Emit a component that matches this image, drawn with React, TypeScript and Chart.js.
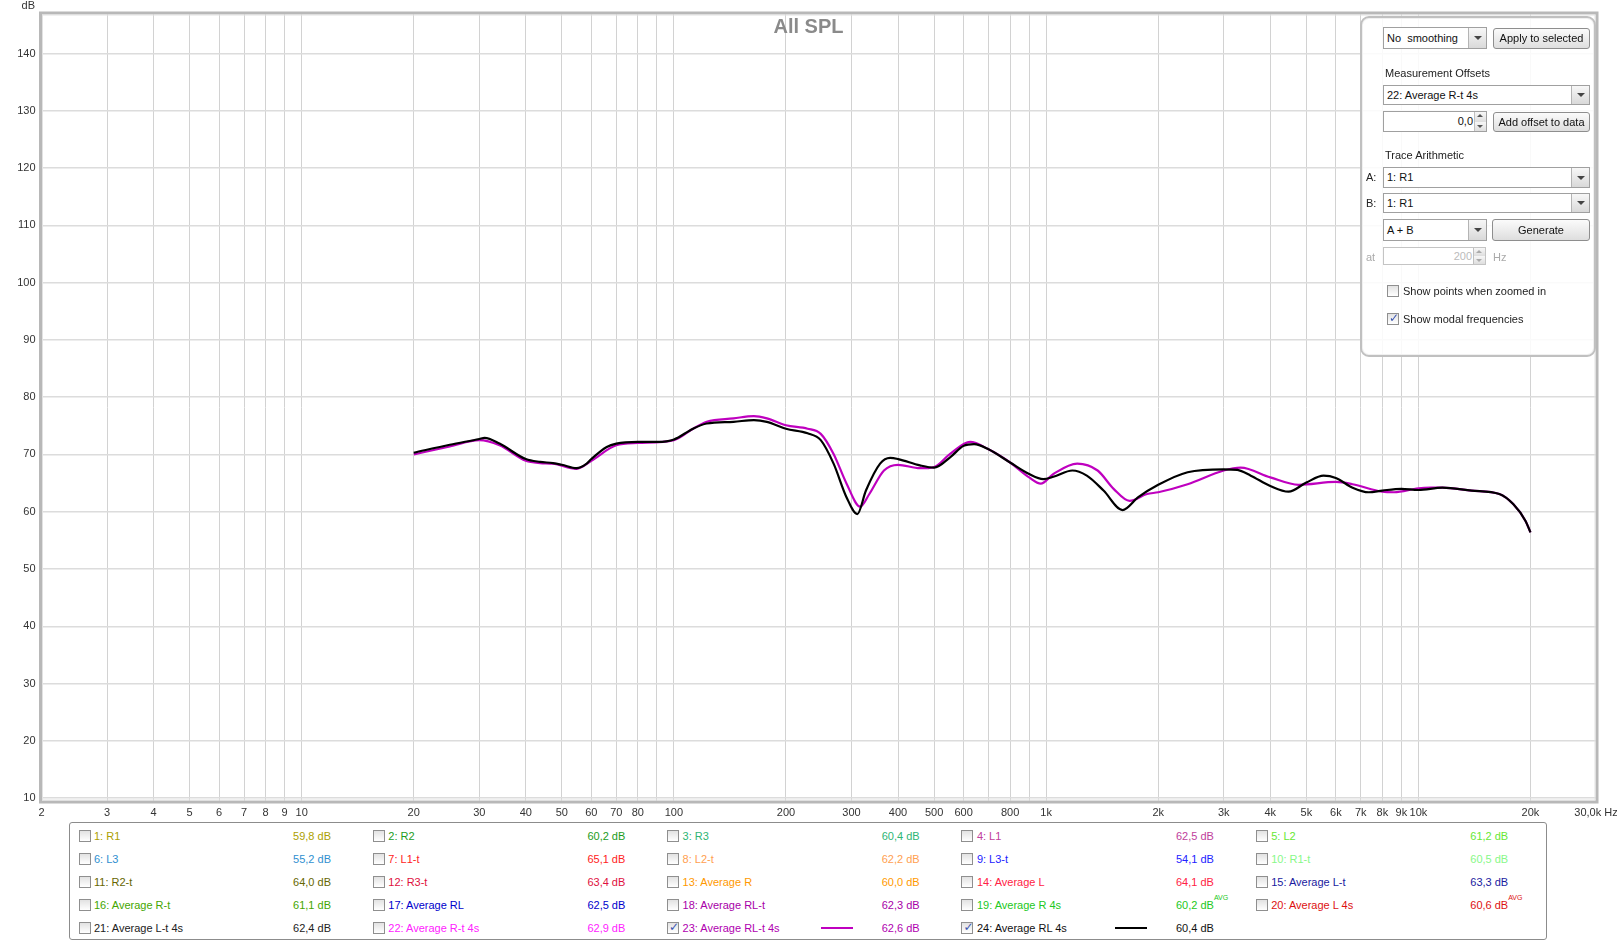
import React, { useEffect, useRef } from 'react';
import { Chart, registerables } from 'chart.js';

Chart.register(...registerables);

// ---------------- DATA ----------------
const freqRL4s = [20, 25, 30, 31, 34, 40, 43.7, 47.3, 50, 54.8, 58.3, 60, 66, 70, 80, 90, 95.5, 100, 112.6, 122.5, 144.6, 164, 177.7, 200, 228.6, 248, 268.5, 291, 311, 328, 358, 381, 400, 458, 500, 552, 600, 640, 700, 800, 900, 982, 1046, 1176, 1286, 1426, 1604, 1764, 2000, 2399, 3000, 3263, 3546, 4000, 4480, 5000, 5562, 6000, 6655, 7352, 8000, 9000, 10000, 11600, 13900, 16500, 18000, 19400, 20000];
const dbRL4s = [70.3, 71.7, 72.7, 72.9, 71.9, 69.2, 68.7, 68.5, 68.2, 67.6, 68.4, 69.2, 71.3, 71.9, 72.2, 72.2, 72.3, 72.6, 74.5, 75.4, 75.7, 76.0, 75.7, 74.5, 73.7, 72.5, 68.4, 62.5, 59.6, 63.7, 68.4, 69.4, 69.2, 68.1, 67.7, 69.5, 71.5, 71.8, 70.9, 68.6, 66.6, 65.7, 66.1, 67.2, 66.3, 63.7, 60.3, 62.5, 64.7, 66.9, 67.4, 67.3, 66.3, 64.5, 63.5, 65.1, 66.3, 65.9, 64.2, 63.4, 63.7, 64.0, 63.8, 64.2, 63.7, 63.1, 61.3, 58.4, 56.4];

const freqRLt4s = [20, 25, 30, 34, 40, 43.7, 47.3, 54.8, 60, 70, 80, 100, 112.6, 122.5, 144.6, 164, 177.7, 200, 228.6, 248, 268.5, 291, 316.5, 335, 366.7, 400, 458, 500, 552, 625, 700, 800, 900, 967, 1046, 1212, 1375, 1518, 1675, 1866, 2000, 2399, 3000, 3330, 4000, 4770, 6000, 6655, 8000, 8600, 10000, 10800, 11600, 13900, 16500, 18000, 19400, 20000];
const dbRLt4s = [70.0, 71.4, 72.5, 71.6, 68.9, 68.5, 68.4, 67.5, 68.9, 71.6, 72.0, 72.5, 74.5, 75.7, 76.3, 76.7, 76.3, 75.1, 74.5, 73.6, 70.1, 64.9, 60.9, 63.1, 67.2, 68.2, 67.6, 67.8, 70.1, 72.2, 70.9, 68.6, 66.0, 64.9, 66.6, 68.4, 67.2, 64.0, 61.9, 63.1, 63.4, 64.8, 67.2, 67.7, 66.0, 64.7, 65.2, 64.8, 63.5, 63.4, 64.1, 64.2, 64.2, 63.7, 63.1, 61.3, 58.4, 56.4];

const yTickValues = [10, 20, 30, 40, 50, 60, 70, 80, 90, 100, 110, 120, 130, 140];
const xTickValues = [2, 3, 4, 5, 6, 7, 8, 9, 10, 20, 30, 40, 50, 60, 70, 80, 90, 100, 200, 300, 400, 500, 600, 700, 800, 900, 1000, 2000, 3000, 4000, 5000, 6000, 7000, 8000, 9000, 10000, 20000, 30000];
const xTickLabels = ['2', '3', '4', '5', '6', '7', '8', '9', '10', '20', '30', '40', '50', '60', '70', '80', '', '100', '200', '300', '400', '500', '600', '', '800', '', '1k', '2k', '3k', '4k', '5k', '6k', '7k', '8k', '9k', '10k', '20k', '30,0k Hz'];

const legendNames = ['1: R1', '2: R2', '3: R3', '4: L1', '5: L2', '6: L3', '7: L1-t', '8: L2-t', '9: L3-t', '10: R1-t', '11: R2-t', '12: R3-t', '13: Average R', '14: Average L', '15: Average L-t', '16: Average R-t', '17: Average RL', '18: Average RL-t', '19: Average R 4s', '20: Average L 4s', '21: Average L-t 4s', '22: Average R-t 4s', '23: Average RL-t 4s', '24: Average RL 4s'];
const legendValues = ['59,8 dB', '60,2 dB', '60,4 dB', '62,5 dB', '61,2 dB', '55,2 dB', '65,1 dB', '62,2 dB', '54,1 dB', '60,5 dB', '64,0 dB', '63,4 dB', '60,0 dB', '64,1 dB', '63,3 dB', '61,1 dB', '62,5 dB', '62,3 dB', '60,2 dB', '60,6 dB', '62,4 dB', '62,9 dB', '62,6 dB', '60,4 dB'];
const legendAvg = [false, false, false, false, false, false, false, false, false, false, false, false, false, false, false, false, false, false, true, true, false, false, false, false];
const legendColors = ['#aca000', '#1c9c1c', '#2eb574', '#c0409c', '#66e833', '#2f8fd0', '#ff2222', '#ffa050', '#2222ff', '#88f888', '#666600', '#e01040', '#ff9900', '#ff2244', '#1a1aa0', '#44a600', '#0000cc', '#a800a8', '#22c822', '#dd1111', '#222222', '#ff22ff', '#b000b0', '#111111'];
const legendChecked = [false, false, false, false, false, false, false, false, false, false, false, false, false, false, false, false, false, false, false, false, false, false, true, true];
const legendLineColors = ['', '', '', '', '', '', '', '', '', '', '', '', '', '', '', '', '', '', '', '', '', '', '#bf00bf', '#000000'];

const FONT = 'Arial, "Liberation Sans", sans-serif';

// ---------------- UI helpers ----------------
const abs = (left: number, top: number, width?: number, height?: number): React.CSSProperties => ({
  position: 'absolute', left, top, width, height, boxSizing: 'border-box',
});

function Arrow({ color = '#444' }: { color?: string }) {
  return (
    <div style={{ position: 'absolute', left: '50%', top: '50%', marginLeft: -4, marginTop: -2, width: 0, height: 0,
      borderLeft: '4px solid transparent', borderRight: '4px solid transparent', borderTop: `4px solid ${color}` }} />
  );
}

function Combo({ left, top, width, height, text }: { left: number; top: number; width: number; height: number; text: string }) {
  return (
    <div style={{ ...abs(left, top, width, height), border: '1px solid #a0a0a0', background: '#fff', font: `11px ${FONT}`,
      lineHeight: `${height - 2}px`, paddingLeft: 3, color: '#111', whiteSpace: 'pre' }}>
      {text}
      <div style={{ position: 'absolute', right: 0, top: 0, width: 17, height: '100%', background: 'linear-gradient(#f7f7f7,#d9d9d9)', borderLeft: '1px solid #b4b4b4' }}>
        <Arrow />
      </div>
    </div>
  );
}

function Button({ left, top, width, height, text }: { left: number; top: number; width: number; height: number; text: string }) {
  return (
    <div style={{ ...abs(left, top, width, height), border: '1px solid #8e8e8e', borderRadius: 3, background: 'linear-gradient(#fbfbfb,#dedede)',
      font: `11px ${FONT}`, lineHeight: `${height - 2}px`, textAlign: 'center', color: '#111' }}>{text}</div>
  );
}

function Spinner({ left, top, width, height, text, disabled }: { left: number; top: number; width: number; height: number; text: string; disabled?: boolean }) {
  const c = disabled ? '#bbb' : '#111';
  return (
    <div style={{ ...abs(left, top, width, height), border: `1px solid ${disabled ? '#c4c4c4' : '#a0a0a0'}`, background: '#fff', font: `11px ${FONT}`,
      lineHeight: `${height - 2}px`, textAlign: 'right', paddingRight: 13, color: c }}>
      {text}
      <div style={{ position: 'absolute', right: 0, top: 0, width: 11, height: '50%', background: 'linear-gradient(#f7f7f7,#dedede)', borderLeft: '1px solid #c0c0c0', borderBottom: '1px solid #c0c0c0' }}>
        <div style={{ position: 'absolute', left: 2, top: 2, width: 0, height: 0, borderLeft: '3px solid transparent', borderRight: '3px solid transparent', borderBottom: `3px solid ${disabled ? '#aaa' : '#555'}` }} />
      </div>
      <div style={{ position: 'absolute', right: 0, bottom: 0, width: 11, height: '50%', background: 'linear-gradient(#f7f7f7,#dedede)', borderLeft: '1px solid #c0c0c0' }}>
        <div style={{ position: 'absolute', left: 2, top: 3, width: 0, height: 0, borderLeft: '3px solid transparent', borderRight: '3px solid transparent', borderTop: `3px solid ${disabled ? '#aaa' : '#555'}` }} />
      </div>
    </div>
  );
}

function CheckBox({ left, top, checked }: { left: number; top: number; checked: boolean }) {
  return (
    <div style={{ ...abs(left, top, 12, 12), border: '1px solid #8f8f8f', background: 'linear-gradient(#e2e2e2,#ffffff)' }}>
      {checked ? (
        <div style={{ position: 'absolute', left: 1, top: -3, font: `bold 12px "DejaVu Sans", ${FONT}`, color: '#3b55b0' }}>✓</div>
      ) : null}
    </div>
  );
}

function Label({ left, cy, text, color = '#222' }: { left: number; cy: number; text: string; color?: string }) {
  return <div style={{ ...abs(left, cy - 7), height: 14, font: `11px ${FONT}`, lineHeight: '14px', color, whiteSpace: 'nowrap' }}>{text}</div>;
}

// ---------------- Chart ----------------
const framePlugin = {
  id: 'framePlugin',
  afterDatasetsDraw(chart: any) {
    const { ctx, chartArea } = chart;
    const { left, top, right, bottom } = chartArea;
    ctx.save();
    ctx.strokeStyle = '#b8b8b8';
    ctx.lineWidth = 3;
    ctx.strokeRect(left - 1, top - 1, right - left + 2, bottom - top + 2);
    ctx.strokeStyle = '#e2e2e2';
    ctx.lineWidth = 1;
    ctx.strokeRect(left + 1, top + 1, right - left - 2, bottom - top - 2);
    ctx.restore();
  },
  afterDraw(chart: any) {
    const { ctx } = chart;
    ctx.save();
    ctx.fillStyle = '#8a8a8a';
    ctx.font = `bold 20px ${FONT}`;
    ctx.textAlign = 'center';
    ctx.textBaseline = 'middle';
    ctx.fillText('All SPL', chart.width / 2, 27);
    ctx.fillStyle = '#333';
    ctx.font = `11px ${FONT}`;
    ctx.textAlign = 'right';
    ctx.fillText('dB', 35, 6);
    ctx.restore();
  },
};

function SplChart() {
  const ref = useRef<HTMLCanvasElement | null>(null);
  useEffect(() => {
    if (!ref.current) return;
    const chart = new Chart(ref.current, {
      type: 'line',
      data: {
        datasets: [
          {
            label: '24: Average RL 4s',
            data: freqRL4s.map((f, i) => ({ x: f, y: dbRL4s[i] })),
            borderColor: '#000000',
            borderWidth: 2.2,
            pointRadius: 0,
            cubicInterpolationMode: 'monotone',
            fill: false,
          },
          {
            label: '23: Average RL-t 4s',
            data: freqRLt4s.map((f, i) => ({ x: f, y: dbRLt4s[i] })),
            borderColor: '#bf00bf',
            borderWidth: 2.2,
            pointRadius: 0,
            cubicInterpolationMode: 'monotone',
            fill: false,
          },
        ],
      },
      options: {
        responsive: false,
        animation: false,
        layout: { padding: { left: 0, top: 14, right: 21, bottom: 121 } },
        plugins: { legend: { display: false }, tooltip: { enabled: false }, title: { display: false } },
        scales: {
          x: {
            type: 'logarithmic',
            min: 2,
            max: 30000,
            afterBuildTicks: (s: any) => { s.ticks = xTickValues.map((v) => ({ value: v })); },
            afterFit: (s: any) => { s.height = 20; s.paddingLeft = 0; s.paddingRight = 0; },
            ticks: {
              autoSkip: false, maxRotation: 0, minRotation: 0, padding: 5, color: '#333',
              font: { family: FONT, size: 11 },
              callback: (_v: any, i: number) => xTickLabels[i],
            },
            grid: { color: '#d2d2d2', lineWidth: 1, drawTicks: false },
            border: { display: false },
          },
          y: {
            type: 'linear',
            min: 9.5,
            max: 146.9,
            afterBuildTicks: (s: any) => { s.ticks = yTickValues.map((v) => ({ value: v })); },
            afterFit: (s: any) => { s.width = 41.5; s.paddingTop = 0; s.paddingBottom = 0; },
            ticks: { padding: 6, color: '#333', font: { family: FONT, size: 11 }, callback: (v: any) => String(v) },
            grid: { color: '#dcdcdc', lineWidth: 1.5, drawTicks: false },
            border: { display: false },
          },
        },
      } as any,
      plugins: [framePlugin],
    });
    return () => chart.destroy();
  }, []);
  return <canvas ref={ref} width={1617} height={942} style={{ position: 'absolute', left: 0, top: 0, display: 'block' }} />;
}

function Panel() {
  return (
    <>
      <div style={{ ...abs(1360, 16, 236, 341), border: '2px solid #c0c0c0', borderRadius: 9, background: 'rgba(255,255,255,0.86)', boxShadow: 'inset 0 0 0 1px #f0f0f0' }} />
      <Combo left={1383} top={27} width={104} height={22} text={'No  smoothing'} />
      <Button left={1493} top={28} width={97} height={21} text="Apply to selected" />
      <Label left={1385} cy={73} text="Measurement Offsets" />
      <Combo left={1383} top={85} width={207} height={20} text="22: Average R-t 4s" />
      <Spinner left={1383} top={111} width={104} height={21} text="0,0" />
      <Button left={1493} top={112} width={97} height={20} text="Add offset to data" />
      <Label left={1385} cy={155} text="Trace Arithmetic" />
      <Label left={1366} cy={177} text="A:" />
      <Combo left={1383} top={167} width={207} height={21} text="1: R1" />
      <Label left={1366} cy={203} text="B:" />
      <Combo left={1383} top={193} width={207} height={20} text="1: R1" />
      <Combo left={1383} top={219} width={104} height={22} text="A + B" />
      <Button left={1492} top={219} width={98} height={22} text="Generate" />
      <Label left={1366} cy={257} text="at" color="#aaa" />
      <Spinner left={1383} top={247} width={103} height={18} text="200" disabled />
      <Label left={1493} cy={257} text="Hz" color="#aaa" />
      <CheckBox left={1387} top={285} checked={false} />
      <Label left={1403} cy={291} text="Show points when zoomed in" />
      <CheckBox left={1387} top={313} checked={true} />
      <Label left={1403} cy={319} text="Show modal frequencies" />
    </>
  );
}

function Legend() {
  const colPitch = 294.3;
  return (
    <>
      <div style={{ ...abs(69, 822, 1478, 118), border: '1px solid #8c8c8c', borderRadius: 3, background: '#fff' }} />
      {legendNames.map((name, i) => {
        const r = Math.floor(i / 5);
        const c = i % 5;
        const cy = 836.2 + r * 22.9;
        const x0 = 78.5 + c * colPitch;
        const valueRight = 331 + c * colPitch;
        const color = legendColors[i];
        return (
          <React.Fragment key={name}>
            <CheckBox left={x0} top={cy - 6} checked={legendChecked[i]} />
            <Label left={x0 + 15.5} cy={cy} text={name} color={color} />
            {legendLineColors[i] ? (
              <div style={{ ...abs(x0 + 154, cy - 1, 32, 2), background: legendLineColors[i] }} />
            ) : null}
            <div style={{ position: 'absolute', right: 1617 - valueRight, top: cy - 7, height: 14, font: `11px ${FONT}`, lineHeight: '14px', color, whiteSpace: 'nowrap' }}>
              {legendValues[i]}
              {legendAvg[i] ? <span style={{ position: 'absolute', left: '100%', top: -4, fontSize: 7, lineHeight: '8px' }}>AVG</span> : null}
            </div>
          </React.Fragment>
        );
      })}
    </>
  );
}

export default function App() {
  return (
    <div style={{ position: 'absolute', left: 0, top: 0, width: 1617, height: 942, overflow: 'hidden', background: '#fff', fontFamily: FONT }}>
      <SplChart />
      <Panel />
      <Legend />
    </div>
  );
}
